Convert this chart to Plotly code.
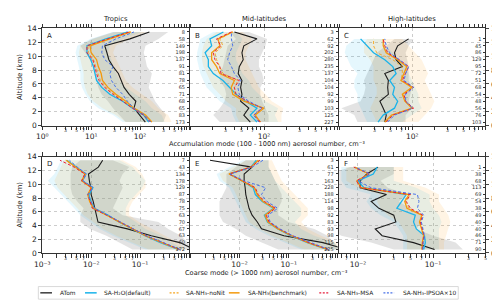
import math
import plotly.graph_objects as go

# ---------------- data ----------------
ALT14 = [0.5, 1.5, 2.5, 3.5, 4.5, 5.5, 6.5, 7.5, 8.5, 9.5, 10.5, 11.5, 12.5, 13.5]
ALT13 = ALT14[:13]

# Panel A: Tropics, accumulation mode (cm-3), altitude 0.5 -> 13.5 km
A_ATOM = [128, 100, 75, 82, 60, 47, 41, 36, 28, 23, 21, 19, 62, 155]
A_H2O = [150, 118, 70, 44, 24, 16.5, 12.9, 12, 11.1, 9.8, 8.2, 8.2, 20, 56]
A_NONIT = [165, 120, 72, 46, 30, 20, 15.5, 13.8, 12.6, 11.2, 8.8, 8.6, 23, 62]
A_BENCH = [174, 129, 75, 51, 32, 22, 17, 16, 14, 12.9, 10, 9.5, 24, 65]
A_MSA = [162, 118, 70, 44, 28, 18.9, 14.5, 12.9, 12, 10.8, 8.2, 8.2, 22, 60]
A_IPSOA = [165, 124, 75, 55, 44, 32, 26, 24, 28, 19, 16.5, 17, 32, 75]
A_ATOM_LO = [51, 38, 28, 22, 16.3, 14, 13, 12, 11, 9.5, 7.6, 6.0, 10.3, 28]
A_ATOM_HI = [300, 340, 260, 203, 174, 150, 161, 174, 138, 129, 119, 129, 237, 375]
A_H2O_LO = [44, 28, 14, 9.5, 7.6, 6.5, 6.0, 6.0, 5.6, 5.2, 4.8, 5.2, 9.5, 28]
A_H2O_HI = [320, 276, 174, 129, 81, 51, 38, 32, 28, 26, 22, 24, 44, 110]
A_BENCH_LO = [50, 32, 17, 11, 8.5, 7.5, 7, 7, 6.5, 6, 5.6, 6, 11, 32]
A_BENCH_HI = [440, 375, 237, 174, 110, 70, 51, 44, 38, 32, 28, 32, 60, 129]
A_N = [173, 83, 65, 68, 71, 65, 78, 81, 91, 137, 198, 149, 58, 8]

# Panel B: Mid-latitudes, accumulation mode
B_ATOM = [65, 53, 62, 48, 50, 48, 50, 44.5, 46, 52, 50, 53, 80, 39.5]
B_H2O = [80, 65, 80, 56, 41.6, 34, 27.6, 20.4, 17.5, 17.5, 15.8, 19.4, 18.4, 28]
B_NONIT = [87, 74, 94, 56, 39.5, 39.5, 44, 27.6, 25, 22.6, 21.5, 27.6, 25, 37]
B_BENCH = [89, 76, 99, 53, 37.5, 35.7, 39.5, 25, 22.6, 19.4, 19.4, 25, 23.7, 37.5]
B_MSA = [89, 72, 94, 59, 41.6, 39.5, 46, 26, 25, 21.5, 20.4, 26, 22.6, 36]
B_IPSOA = [85, 72, 94, 62, 46, 44, 48, 39.5, 36, 32, 34, 37.5, 36, 36]
B_ATOM_LO = [25, 20.4, 25, 29, 30.6, 29, 25, 25, 27.6, 29, 30.6, 32, 41.6, 34]
B_ATOM_HI = [115, 115, 104, 94, 89, 89, 99, 94, 85, 85, 94, 104, 110, 62]
B_H2O_LO = [41.6, 37.5, 35.7, 25, 20.4, 16.6, 15, 13.6, 12.9, 12.3, 12.3, 12.9, 13.6, 20.4]
B_H2O_HI = [155, 140, 155, 104, 85, 69, 62, 50.8, 46, 41.6, 41.6, 46, 50.8, 41.6]
B_BENCH_LO = [46, 41.6, 41.6, 30.6, 25, 20.4, 18.4, 16.6, 15, 14.3, 14.3, 15, 16.6, 22.6]
B_BENCH_HI = [172, 172, 182, 127, 104, 85, 76, 69, 62, 56, 56, 62, 69, 50.8]
B_N = [227, 125, 103, 99, 92, 104, 104, 137, 235, 280, 202, 92, 62, 3]

# Panel C: High-latitudes, accumulation mode (0.5 -> 12.5 km)
C_ATOM = [42, 44, 40, 36, 47, 46, 47, 42, 73, 60, 57, 63, 89]
C_H2O = [34, 40, 57, 63, 54, 57, 49, 60, 54, 42, 29.5, 24, 19.6]
C_NONIT = [43, 53, 100, 80, 75, 99, 70, 73, 73, 54, 32.6, 29.5, 29.5]
C_BENCH = [42, 52, 99, 79, 73, 99, 70, 77, 84, 63, 44, 40, 40]
C_MSA = [44, 54, 104, 81, 77, 104, 73, 81, 89, 66, 46, 42, 40]
C_IPSOA = [46, 57, 101, 81, 81, 104, 77, 81, 89, 66, 49, 44, 42]
C_ATOM_LO = [17.8, 16.1, 10.7, 19.6, 21.8, 22.9, 21.8, 24, 26.6, 29.5, 32.6, 44, 57]
C_ATOM_HI = [81, 81, 99, 89, 94, 99, 89, 89, 89, 85, 81, 89, 104]
C_H2O_LO = [24, 21.8, 19.6, 17.8, 17.8, 16.1, 16.1, 17.8, 14.5, 13.1, 11.9, 12.5, 16.1]
C_H2O_HI = [73, 99, 134, 121, 121, 110, 99, 89, 81, 66, 54, 44, 40]
C_BENCH_LO = [32.6, 29.5, 26.6, 29.5, 32.6, 32.6, 29.5, 29.5, 29.5, 26.6, 21.8, 21.8, 24]
C_BENCH_HI = [121, 148, 181, 200, 181, 164, 148, 164, 148, 134, 110, 89, 73]
C_N = [103, 76, 56, 48, 54, 68, 51, 72, 95, 129, 86, 45, 1]

# Panel D: Tropics, coarse mode
D_ATOM = [1.3, 0.65, 0.17, 0.055, 0.0138, 0.0129, 0.012, 0.011, 0.010, 0.0098, 0.0092, 0.0088, 0.014, 0.0172]
D_H2O = [0.60, 0.26, 0.125, 0.068, 0.037, 0.022, 0.0115, 0.0098, 0.0090, 0.0108, 0.0066, 0.0078, 0.0050, 0.0032]
D_NONIT = [0.63, 0.27, 0.13, 0.071, 0.039, 0.021, 0.0110, 0.0094, 0.0087, 0.0102, 0.0066, 0.0077, 0.0047, 0.0030]
D_BENCH = [0.62, 0.27, 0.128, 0.07, 0.038, 0.022, 0.0112, 0.0093, 0.0085, 0.0100, 0.0064, 0.0075, 0.0048, 0.0031]
D_MSA = [0.64, 0.28, 0.133, 0.072, 0.039, 0.021, 0.0106, 0.0094, 0.0086, 0.0103, 0.0064, 0.0074, 0.0045, 0.0023]
D_IPSOA = [0.66, 0.29, 0.135, 0.073, 0.040, 0.023, 0.0118, 0.0100, 0.0084, 0.0112, 0.0068, 0.0080, 0.0052, 0.0036]
D_ATOM_LO = [0.07, 0.038, 0.0205, 0.0095, 0.006, 0.006, 0.007, 0.0052, 0.0041, 0.0038, 0.0038, 0.0038, 0.0041, 0.006]
D_ATOM_HI = [1.2, 0.93, 0.69, 0.375, 0.237, 0.044, 0.0278, 0.0325, 0.038, 0.044, 0.038, 0.044, 0.06, 0.0278]
D_H2O_LO = [0.129, 0.06, 0.0278, 0.0151, 0.0095, 0.006, 0.0045, 0.0033, 0.00243, 0.00177, 0.0013, 0.00177, 0.00207, 0.00243]
D_H2O_HI = [0.8, 0.436, 0.277, 0.129, 0.082, 0.051, 0.051, 0.06, 0.082, 0.11, 0.129, 0.095, 0.07, 0.038]
D_BENCH_LO = [0.15, 0.07, 0.0325, 0.0176, 0.0111, 0.007, 0.0052, 0.0038, 0.0028, 0.00207, 0.00177, 0.00207, 0.00243, 0.0028]
D_BENCH_HI = [0.93, 0.59, 0.32, 0.174, 0.095, 0.06, 0.06, 0.07, 0.095, 0.129, 0.129, 0.11, 0.082, 0.044]
D_N = [172, 60, 63, 67, 70, 63, 75, 78, 87, 129, 178, 134, 43, 7]

# Panel E: Mid-latitudes, coarse mode
E_ATOM = [1.5, 0.5, 0.08, 0.028, 0.023, 0.018, 0.0156, 0.0145, 0.0134, 0.013, 0.0124, 0.0124, 0.018, 0.0025]
E_H2O = [0.60, 0.24, 0.11, 0.060, 0.037, 0.032, 0.049, 0.029, 0.021, 0.019, 0.0112, 0.0062, 0.017, 0.022]
E_NONIT = [0.63, 0.25, 0.117, 0.063, 0.040, 0.034, 0.052, 0.031, 0.023, 0.020, 0.0115, 0.0060, 0.017, 0.025]
E_BENCH = [0.62, 0.25, 0.115, 0.061, 0.038, 0.033, 0.051, 0.030, 0.023, 0.020, 0.0113, 0.0061, 0.017, 0.024]
E_MSA = [0.64, 0.26, 0.118, 0.064, 0.040, 0.035, 0.054, 0.032, 0.024, 0.021, 0.0116, 0.0062, 0.017, 0.026]
E_IPSOA = [0.66, 0.27, 0.122, 0.066, 0.042, 0.038, 0.060, 0.036, 0.028, 0.034, 0.0125, 0.0064, 0.018, 0.030]
E_ATOM_LO = [0.0615, 0.0288, 0.0134, 0.0085, 0.0046, 0.0039, 0.0039, 0.0039, 0.0046, 0.0054, 0.0054, 0.0054, 0.0085, 0.0134]
E_ATOM_HI = [1.12, 0.84, 0.62, 0.335, 0.098, 0.0615, 0.0615, 0.072, 0.072, 0.0615, 0.053, 0.0456, 0.039, 0.039]
E_H2O_LO = [0.18, 0.084, 0.039, 0.0213, 0.0134, 0.0115, 0.0099, 0.0085, 0.0073, 0.0062, 0.0039, 0.0034, 0.0062, 0.0115]
E_H2O_HI = [1.12, 0.84, 0.335, 0.18, 0.134, 0.18, 0.18, 0.134, 0.098, 0.072, 0.053, 0.0456, 0.039, 0.039]
E_BENCH_LO = [0.21, 0.098, 0.0456, 0.0247, 0.0156, 0.0134, 0.0115, 0.0099, 0.0085, 0.0073, 0.0046, 0.0039, 0.0073, 0.0134]
E_BENCH_HI = [1.12, 0.96, 0.457, 0.246, 0.18, 0.246, 0.246, 0.18, 0.134, 0.098, 0.072, 0.0615, 0.053, 0.0456]
E_N = [225, 115, 98, 93, 83, 92, 98, 114, 188, 228, 163, 77, 61, 3]

# Panel F: High-latitudes, coarse mode (0.5 -> 12.5 km)
F_ATOM = [0.105, 0.055, 0.021, 0.017, 0.032, 0.030, 0.019, 0.015, 0.024, 0.0107, 0.0107, 0.0131, 0.0185]
F_H2O = [0.075, 0.079, 0.077, 0.060, 0.055, 0.058, 0.033, 0.038, 0.044, 0.012, 0.0100, 0.016, 0.018]
F_NONIT = [0.072, 0.073, 0.075, 0.072, 0.068, 0.072, 0.048, 0.043, 0.050, 0.011, 0.0097, 0.014, 0.0090]
F_BENCH = [0.071, 0.072, 0.075, 0.071, 0.066, 0.071, 0.045, 0.042, 0.048, 0.011, 0.0097, 0.014, 0.0090]
F_MSA = [0.072, 0.073, 0.076, 0.072, 0.068, 0.073, 0.050, 0.044, 0.050, 0.011, 0.0095, 0.0145, 0.0088]
F_IPSOA = [0.073, 0.074, 0.077, 0.074, 0.070, 0.075, 0.062, 0.065, 0.062, 0.015, 0.010, 0.0145, 0.0092]
F_ATOM_LO = [0.03, 0.015, 0.006, 0.004, 0.004, 0.004, 0.004, 0.004, 0.004, 0.004, 0.004, 0.004, 0.008]
F_ATOM_HI = [0.25, 0.2, 0.1, 0.06, 0.07, 0.07, 0.05, 0.035, 0.045, 0.025, 0.02, 0.03, 0.03]
F_H2O_LO = [0.04, 0.04, 0.04, 0.035, 0.03, 0.02, 0.015, 0.013, 0.015, 0.007, 0.006, 0.006, 0.006]
F_H2O_HI = [0.12, 0.12, 0.12, 0.12, 0.13, 0.12, 0.1, 0.09, 0.09, 0.06, 0.03, 0.03, 0.03]
F_BENCH_LO = [0.045, 0.045, 0.045, 0.04, 0.035, 0.025, 0.02, 0.018, 0.02, 0.01, 0.007, 0.007, 0.007]
F_BENCH_HI = [0.14, 0.14, 0.15, 0.16, 0.17, 0.16, 0.14, 0.12, 0.12, 0.08, 0.04, 0.04, 0.04]
F_N = [90, 71, 46, 40, 40, 49, 38, 54, 69, 113, 68, 38, 1]

SERIES_NAMES = ["ATom", "SA-H\u2082O(default)", "SA-NH\u2083-noNit",
                "SA-NH\u2083(benchmark)", "SA-NH\u2083-MSA", "SA-NH\u2083-IPSOA\u00d710"]
REGION_TITLES = ["Tropics", "Mid-latitudes", "High-latitudes"]
ALT_TICKS = [0, 2, 4, 6, 8, 10, 12, 14]
MINOR_LABELS = [3, 5, 7]

# ---------------- styles ----------------
FONT = "DejaVu Sans"
STYLES = [
    dict(color="#1c1c1c", width=1.1, dash="solid"),
    dict(color="#1ab3ea", width=1.3, dash="solid"),
    dict(color="#f5a623", width=0.9, dash="3px,2px"),
    dict(color="#f39a0e", width=1.3, dash="solid"),
    dict(color="#e61e3c", width=1.0, dash="3px,2px"),
    dict(color="#4a73e8", width=1.0, dash="3px,2px"),
]
BAND_COLORS = ["rgba(140,140,140,0.24)", "rgba(0,175,240,0.10)", "rgba(255,165,30,0.12)"]

XDOM = [(0.054, 0.356), (0.359, 0.662), (0.665, 0.966)]
YDOM = [(0.6113, 0.9435), (0.175, 0.504)]

panels = [
    dict(letter="A", alt=ALT14, lines=[A_ATOM, A_H2O, A_NONIT, A_BENCH, A_MSA, A_IPSOA],
         bands=[(A_ATOM_LO, A_ATOM_HI), (A_H2O_LO, A_H2O_HI), (A_BENCH_LO, A_BENCH_HI)],
         n=A_N, xr=(0, 3)),
    dict(letter="B", alt=ALT14, lines=[B_ATOM, B_H2O, B_NONIT, B_BENCH, B_MSA, B_IPSOA],
         bands=[(B_ATOM_LO, B_ATOM_HI), (B_H2O_LO, B_H2O_HI), (B_BENCH_LO, B_BENCH_HI)],
         n=B_N, xr=(1, 3)),
    dict(letter="C", alt=ALT13, lines=[C_ATOM, C_H2O, C_NONIT, C_BENCH, C_MSA, C_IPSOA],
         bands=[(C_ATOM_LO, C_ATOM_HI), (C_H2O_LO, C_H2O_HI), (C_BENCH_LO, C_BENCH_HI)],
         n=C_N, xr=(1, 3)),
    dict(letter="D", alt=ALT14, lines=[D_ATOM, D_H2O, D_NONIT, D_BENCH, D_MSA, D_IPSOA],
         bands=[(D_ATOM_LO, D_ATOM_HI), (D_H2O_LO, D_H2O_HI), (D_BENCH_LO, D_BENCH_HI)],
         n=D_N, xr=(-3, 0)),
    dict(letter="E", alt=ALT14, lines=[E_ATOM, E_H2O, E_NONIT, E_BENCH, E_MSA, E_IPSOA],
         bands=[(E_ATOM_LO, E_ATOM_HI), (E_H2O_LO, E_H2O_HI), (E_BENCH_LO, E_BENCH_HI)],
         n=E_N, xr=(-3, 0)),
    dict(letter="F", alt=ALT13, lines=[F_ATOM, F_H2O, F_NONIT, F_BENCH, F_MSA, F_IPSOA],
         bands=[(F_ATOM_LO, F_ATOM_HI), (F_H2O_LO, F_H2O_HI), (F_BENCH_LO, F_BENCH_HI)],
         n=F_N, xr=(-2.25, -0.301)),
]

SUPS = {"-": "\u207b", "0": "\u2070", "1": "\u00b9", "2": "\u00b2", "3": "\u00b3"}


def sup(d):
    return "10" + "".join(SUPS[c] for c in str(d))


def log_ticks(lo, hi, hide_left):
    """major = labelled decades, minor = every digit, small labels = 3,5,7."""
    major_v, major_t, minor_v, small = [], [], [], []
    for d in range(math.floor(lo), math.ceil(hi) + 1):
        for m in range(1, 10):
            v = m * 10.0 ** d
            lv = math.log10(v)
            if lv < lo - 1e-6 or lv > hi + 1e-6:
                continue
            minor_v.append(v)
            if m == 1 and not (hide_left and abs(lv - lo) < 1e-6):
                major_v.append(v)
                major_t.append(sup(d))
            elif m in MINOR_LABELS:
                small.append((lv, m))
    return major_v, major_t, minor_v, small


fig = go.Figure()
layout = {}
annotations = []

for i, p in enumerate(panels):
    k = i + 1
    row, col = divmod(i, 3)
    xa = "x" if k == 1 else "x%d" % k
    ya = "y" if k == 1 else "y%d" % k
    alt = p["alt"]
    for (lo, hi), bc in zip(p["bands"], BAND_COLORS):
        fig.add_trace(go.Scatter(x=list(lo) + list(hi)[::-1], y=list(alt) + list(alt)[::-1],
                                 fill="toself", fillcolor=bc, mode="lines",
                                 line=dict(width=0), xaxis=xa, yaxis=ya,
                                 showlegend=False, hoverinfo="skip"))
    for vals, st, name in zip(p["lines"], STYLES, SERIES_NAMES):
        fig.add_trace(go.Scatter(x=vals, y=alt, mode="lines", line=st, name=name,
                                 xaxis=xa, yaxis=ya, showlegend=False))
    fig.add_trace(go.Scatter(x=[None], y=[None], xaxis=xa, yaxis="y%d" % (k + 6),
                             showlegend=False, hoverinfo="skip"))

    lo, hi = p["xr"]
    mv, mt, nv, small = log_ticks(lo, hi, hide_left=(col > 0))
    layout["xaxis" if k == 1 else "xaxis%d" % k] = dict(
        domain=XDOM[col], anchor=ya, type="log", range=[lo, hi],
        tickmode="array", tickvals=mv, ticktext=mt, ticks="outside", ticklen=4,
        tickwidth=0.7, tickcolor="#333", tickangle=0, showgrid=True, gridcolor="#cccccc",
        griddash="dot", gridwidth=0.6, zeroline=False,
        showline=True, linecolor="#333", linewidth=0.8, mirror="allticks",
        tickfont=dict(size=7.5, family=FONT, color="#222"),
        minor=dict(tickmode="array", tickvals=nv, ticks="outside", ticklen=2,
                   tickcolor="#333", tickwidth=0.6, showgrid=False),
    )
    for lv, m in small:
        annotations.append(dict(text=str(m), x=lv, y=YDOM[row][0] - 2.0 / 301, xref=xa,
                                yref="paper", xanchor="center", yanchor="top", showarrow=False,
                                borderpad=0, font=dict(size=4.8, family=FONT, color="#333")))
    ydict = dict(domain=YDOM[row], anchor=xa, range=[0, 14], tickmode="array",
                 tickvals=ALT_TICKS, showgrid=True, gridcolor="#cccccc", griddash="dot",
                 gridwidth=0.6, zeroline=False, showline=True, linecolor="#333",
                 linewidth=0.8, mirror=True, tickfont=dict(size=7.5, family=FONT, color="#222"))
    if col == 0:
        ydict.update(ticks="outside", ticklen=3, showticklabels=True, side="left",
                     title=dict(text="Altitude (km)", standoff=3,
                                font=dict(size=7, family=FONT, color="#222")))
    elif col == 2:
        ydict.update(ticks="outside", ticklen=3, showticklabels=True, side="right")
    else:
        ydict.update(ticks="", showticklabels=False)
    layout["yaxis" if k == 1 else "yaxis%d" % k] = ydict
    layout["yaxis%d" % (k + 6)] = dict(
        overlaying=ya, anchor=xa, side="right", range=[0, 14], tickmode="array",
        tickvals=alt, ticktext=[str(v) for v in p["n"]], ticks="inside", ticklen=2,
        tickwidth=0.6, tickcolor="#333", ticklabelposition="inside", showgrid=False,
        zeroline=False, showline=False, tickfont=dict(size=5, family=FONT, color="#333"))

for i, p in enumerate(panels):
    row, col = divmod(i, 3)
    annotations.append(dict(text=p["letter"], x=XDOM[col][0] + 0.005, y=YDOM[row][1] - 0.004,
                            xref="paper", yref="paper", xanchor="left", yanchor="top",
                            showarrow=False, font=dict(size=7, family=FONT, color="#222")))
for col, t in enumerate(REGION_TITLES):
    annotations.append(dict(text=t, x=(XDOM[col][0] + XDOM[col][1]) / 2, y=1 - 7.5 / 301,
                            xref="paper", yref="paper", xanchor="center", yanchor="middle",
                            showarrow=False, font=dict(size=6.8, family=FONT, color="#222")))
annotations.append(dict(text="Accumulation mode (100 - 1000 nm) aerosol number, cm\u207b\u00b3",
                        x=258 / 500, y=1 - 136.5 / 301, xref="paper", yref="paper",
                        xanchor="center", yanchor="middle", showarrow=False,
                        font=dict(size=6.6, family=FONT, color="#222")))
annotations.append(dict(text="Coarse mode (> 1000 nm) aerosol number, cm\u207b\u00b3",
                        x=258 / 500, y=1 - 269 / 301, xref="paper", yref="paper",
                        xanchor="center", yanchor="middle", showarrow=False,
                        font=dict(size=6.6, family=FONT, color="#222")))

# manual legend
shapes = [dict(type="rect", xref="paper", yref="paper", x0=23 / 500, x1=455 / 500,
               y0=1 - 296 / 301, y1=1 - 283 / 301, line=dict(color="#d0d0d0", width=0.8),
               fillcolor="white", layer="above")]
LEG_X = [(25, 37, 43), (71, 83, 88), (158, 168, 173), (219, 230, 237), (312, 322, 328), (378, 389, 396)]
ly = 1 - 289.5 / 301
for (x0, x1, xt), st, name in zip(LEG_X, STYLES, SERIES_NAMES):
    shapes.append(dict(type="line", xref="paper", yref="paper", x0=x0 / 500, x1=x1 / 500,
                       y0=ly, y1=ly, layer="above",
                       line=dict(color=st["color"], width=st["width"] + 0.2,
                                 dash="2px,1.5px" if st["dash"] != "solid" else "solid")))
    annotations.append(dict(text=name, x=xt / 500, y=ly, xref="paper", yref="paper",
                            xanchor="left", yanchor="middle", showarrow=False,
                            font=dict(size=5.9, family=FONT, color="#222")))

fig.update_layout(width=500, height=301, margin=dict(l=0, r=0, t=0, b=0),
                  plot_bgcolor="white", paper_bgcolor="white", showlegend=False,
                  annotations=annotations, shapes=shapes, **layout)
fig.write_html("out.html")
